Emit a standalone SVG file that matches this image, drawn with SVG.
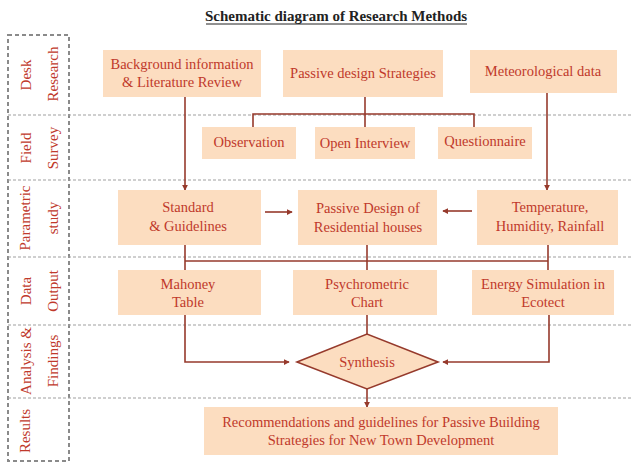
<svg xmlns="http://www.w3.org/2000/svg" width="632" height="463" viewBox="0 0 632 463">
<style>
.t{font-family:"Liberation Serif","Times New Roman",serif;font-size:14.5px;fill:#C0392B;text-anchor:middle}
.lab{font-family:"Liberation Serif","Times New Roman",serif;font-size:15px;fill:#C0392B;text-anchor:middle}
.box{fill:#FCDDC0}
.sep{stroke:#A0A0A0;stroke-width:1.2;stroke-dasharray:3 2;fill:none}
.frame{stroke:#8A8A8A;stroke-width:2;stroke-dasharray:4 3;fill:none}
.c{stroke:#963A2C;stroke-width:1.6;fill:none}
</style>
<defs>
<marker id="a" viewBox="0 0 8 8" refX="7" refY="4" markerWidth="6" markerHeight="6" orient="auto" markerUnits="userSpaceOnUse">
<path d="M0,0 L8,4 L0,8 z" fill="#963A2C"/>
</marker>
</defs>
<rect width="632" height="463" fill="#FFFFFF"/>
<text x="336" y="21" font-family="Liberation Serif,'Times New Roman',serif" font-size="15" font-weight="bold" fill="#222" text-anchor="middle">Schematic diagram of Research Methods</text>
<line x1="206" y1="24" x2="467" y2="24" stroke="#222" stroke-width="1"/>

<g id="lanes">
<rect class="frame" x="8" y="35" width="61" height="426"/>
<line class="sep" x1="8" y1="115" x2="632" y2="115"/>
<line class="sep" x1="8" y1="180" x2="632" y2="180"/>
<line class="sep" x1="8" y1="257" x2="632" y2="257"/>
<line class="sep" x1="8" y1="325" x2="632" y2="325"/>
<line class="sep" x1="8" y1="398" x2="632" y2="398"/>
<text class="lab" transform="translate(31,75) rotate(-90)">Desk</text>
<text class="lab" transform="translate(58,74) rotate(-90)">Research</text>
<text class="lab" transform="translate(31,148) rotate(-90)">Field</text>
<text class="lab" transform="translate(58,148) rotate(-90)">Survey</text>
<text class="lab" transform="translate(30,218) rotate(-90)">Parametric</text>
<text class="lab" transform="translate(58,218) rotate(-90)">study</text>
<text class="lab" transform="translate(31,291) rotate(-90)">Data</text>
<text class="lab" transform="translate(58,291) rotate(-90)">Output</text>
<text class="lab" transform="translate(31,361) rotate(-90)">Analysis &amp;</text>
<text class="lab" transform="translate(58,361) rotate(-90)">Findings</text>
<text class="lab" transform="translate(30,431) rotate(-90)">Results</text>
</g>

<g id="connectors">
<line class="c" x1="185" y1="97" x2="185" y2="190" marker-end="url(#a)"/>
<polyline class="c" points="365,97 365,114"/>
<polyline class="c" points="253,133 253,114 474,114 474,137"/>
<line class="c" x1="365" y1="114" x2="365" y2="130"/>
<line class="c" x1="547" y1="93" x2="547" y2="190" marker-end="url(#a)"/>
<line class="c" x1="265" y1="212" x2="292" y2="212" marker-end="url(#a)"/>
<line class="c" x1="472" y1="211" x2="443" y2="211" marker-end="url(#a)"/>
<line class="c" x1="185" y1="245" x2="185" y2="270"/>
<line class="c" x1="367" y1="245" x2="367" y2="270"/>
<line class="c" x1="548" y1="245" x2="548" y2="270"/>
<line class="c" x1="185" y1="261" x2="548" y2="261"/>
<polyline class="c" points="185,315 185,362 289,362" marker-end="url(#a)"/>
<line class="c" x1="367" y1="315" x2="367" y2="334"/>
<polyline class="c" points="549,315 549,362 443,362" marker-end="url(#a)"/>
<line class="c" x1="367" y1="389" x2="367" y2="407" marker-end="url(#a)"/>
</g>

<g id="n-background"><rect class="box" x="103" y="50" width="158" height="47"/>
<text class="t" x="182" y="69">Background information</text><text class="t" x="182" y="87">&amp; Literature Review</text></g>
<g id="n-passive-strategies"><rect class="box" x="283" y="50" width="160" height="47"/>
<text class="t" x="363" y="78">Passive design Strategies</text></g>
<g id="n-meteorological"><rect class="box" x="470" y="50" width="147" height="43"/>
<text class="t" x="543" y="76">Meteorological data</text></g>
<g id="n-observation"><rect class="box" x="202" y="127" width="94" height="32"/>
<text class="t" x="249" y="147">Observation</text></g>
<g id="n-interview"><rect class="box" x="315" y="127" width="100" height="32"/>
<text class="t" x="365" y="148">Open Interview</text></g>
<g id="n-questionnaire"><rect class="box" x="438" y="127" width="94" height="32"/>
<text class="t" x="485" y="146">Questionnaire</text></g>
<g id="n-standard"><rect class="box" x="118" y="190" width="143" height="55"/>
<text class="t" x="188" y="212">Standard</text><text class="t" x="188" y="231">&amp; Guidelines</text></g>
<g id="n-passive-design"><rect class="box" x="298" y="190" width="139" height="55"/>
<text class="t" x="368" y="213">Passive Design of</text><text class="t" x="368" y="232">Residential houses</text></g>
<g id="n-temperature"><rect class="box" x="477" y="190" width="141" height="55"/>
<text class="t" x="550" y="212">Temperature,</text><text class="t" x="550" y="231">Humidity, Rainfall</text></g>
<g id="n-mahoney"><rect class="box" x="118" y="270" width="143" height="45"/>
<text class="t" x="188" y="289">Mahoney</text><text class="t" x="188" y="307">Table</text></g>
<g id="n-psychrometric"><rect class="box" x="293" y="270" width="144" height="45"/>
<text class="t" x="367" y="289">Psychrometric</text><text class="t" x="367" y="307">Chart</text></g>
<g id="n-energy"><rect class="box" x="472" y="270" width="142" height="45"/>
<text class="t" x="543" y="289">Energy Simulation in</text><text class="t" x="543" y="307">Ecotect</text></g>
<g id="n-synthesis"><polygon points="297,362 367,334 438,362 367,389" fill="#FCDDC0" stroke="#963A2C" stroke-width="1.6"/>
<text class="t" x="367" y="367">Synthesis</text></g>
<g id="n-recommendations"><rect class="box" x="204" y="407" width="354" height="48"/>
<text class="t" x="381" y="427">Recommendations and guidelines for Passive Building</text><text class="t" x="381" y="445">Strategies for New Town Development</text></g>
</svg>
